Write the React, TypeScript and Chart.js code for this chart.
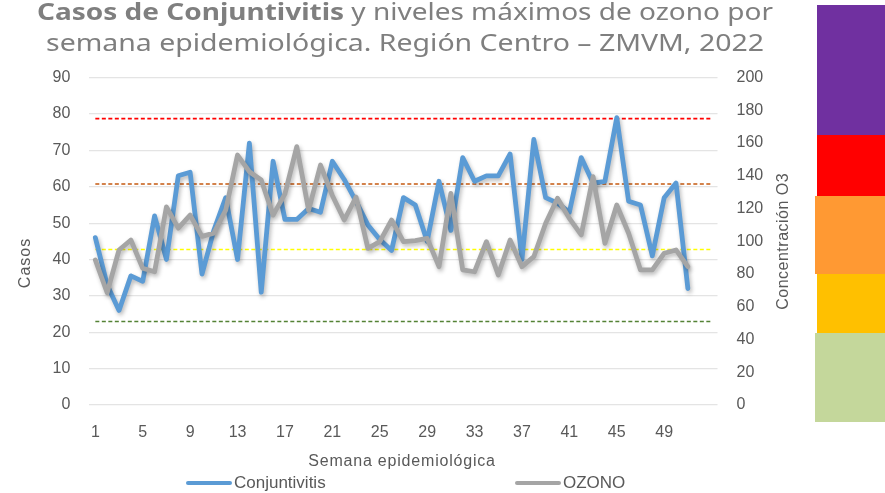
import React, { useEffect, useRef } from 'react';
import { Chart, registerables } from 'chart.js';

Chart.register(...registerables);

const weeks = ['1','2','3','4','5','6','7','8','9','10','11','12','13','14','15','16','17','18','19','20','21','22','23','24','25','26','27','28','29','30','31','32','33','34','35','36','37','38','39','40','41','42','43','44','45','46','47','48','49','50','51','52','53'];

const conjuntivitis = [46, 33, 26, 35.5, 34, 52, 40, 63, 64, 36, 48, 57, 40, 72, 31, 67, 51, 51, 54, 53, 67, 62, 56, 49.5, 45.5, 42.5, 57, 55, 45, 61.5, 48, 68, 61.5, 63, 63, 69, 40, 73, 57, 55.5, 53, 68, 61, 61.5, 79, 56, 55, 41, 57, 61, 32];

const ozono = [88.6, 68.6, 94.7, 100.8, 83.5, 81.4, 121, 108, 116, 103, 105, 119, 152.7, 142.5, 137.4, 116, 129, 157.8, 119, 146.6, 128, 113, 127, 95.7, 99.8, 113, 99.8, 100.4, 101.8, 84.5, 129.3, 82.5, 81.4, 99.8, 79.4, 100.8, 84.5, 90.6, 111, 126.3, 114, 103.9, 139.5, 98.8, 122.2, 104.9, 82.5, 82.5, 92.7, 94.7, 84.5];

const thresholdValues = [51, 95, 135, 175];
const thresholdColors = ['#548235', '#FFFF00', '#C55A11', '#FF0000'];

const titleBold = 'Casos de Conjuntivitis';
const titleRest = ' y niveles máximos de ozono por';
const titleLine2 = 'semana epidemiológica. Región Centro – ZMVM, 2022';
const xTitle = 'Semana epidemiológica';
const yTitle = 'Casos';
const y2Title = 'Concentración O3';
const seriesNames = ['Conjuntivitis', 'OZONO'];
const seriesColors = ['#5B9BD5', '#A5A5A5'];

const TEXT = '#595959';
const FONT = '"Liberation Sans", Arial, sans-serif';

const shadowPlugin = {
  id: 'lineShadow',
  beforeDatasetDraw(chart: any, args: any) {
    const ctx = chart.ctx;
    ctx.save();
    if (args.index < 2) {
      ctx.shadowColor = 'rgba(0,0,0,0.28)';
      ctx.shadowBlur = 4;
      ctx.shadowOffsetX = 1.5;
      ctx.shadowOffsetY = 2.5;
    }
  },
  afterDatasetDraw(chart: any) {
    chart.ctx.restore();
  },
};

const decorPlugin = {
  id: 'decor',
  afterDraw(chart: any) {
    const ctx = chart.ctx as CanvasRenderingContext2D;
    const area = chart.chartArea;
    ctx.save();
    // Title
    const titleFamily = '"Noto Sans", "Open Sans", sans-serif';
    const fs = 23;
    ctx.fillStyle = '#7F7F7F';
    ctx.textBaseline = 'alphabetic';
    ctx.textAlign = 'left';
    ctx.font = `bold ${fs}px ${titleFamily}`;
    const wb = ctx.measureText(titleBold).width;
    ctx.font = `${fs}px ${titleFamily}`;
    const wr = ctx.measureText(titleRest).width;
    const w2 = ctx.measureText(titleLine2).width;
    const cx = 405;
    const t1 = 736, t2 = 718;
    let sx = t1 / (wb + wr);
    ctx.save();
    ctx.translate(cx - t1 / 2, 20);
    ctx.scale(sx, 1);
    ctx.font = `bold ${fs}px ${titleFamily}`;
    ctx.fillText(titleBold, 0, 0);
    ctx.font = `${fs}px ${titleFamily}`;
    ctx.fillText(titleRest, wb, 0);
    ctx.restore();
    sx = t2 / w2;
    ctx.save();
    ctx.translate(cx - t2 / 2, 51);
    ctx.scale(sx, 1);
    ctx.fillText(titleLine2, 0, 0);
    ctx.restore();

    // axis titles
    ctx.fillStyle = TEXT;
    ctx.font = `16px ${FONT}`;
    ctx.textAlign = 'center';
    ctx.textBaseline = 'middle';
    ctx.save();
    ctx.translate(26, 263);
    ctx.rotate(-Math.PI / 2);
    (ctx as any).letterSpacing = '1px';
    ctx.fillText(yTitle, 0, 0);
    ctx.restore();
    ctx.save();
    ctx.translate(784, (area.top + area.bottom) / 2);
    ctx.rotate(-Math.PI / 2);
    (ctx as any).letterSpacing = '0.5px';
    ctx.fillText(y2Title, 0, 0);
    ctx.restore();
    ctx.save();
    (ctx as any).letterSpacing = '0.8px';
    ctx.fillText(xTitle, 402, 462);
    ctx.restore();

    // legend
    const legendX = [186, 515];
    ctx.lineWidth = 4;
    ctx.lineCap = 'round';
    ctx.textAlign = 'left';
    ctx.font = `17px ${FONT}`;
    for (let i = 0; i < seriesNames.length; i++) {
      ctx.strokeStyle = seriesColors[i];
      ctx.beginPath();
      ctx.moveTo(legendX[i] + 2, 483);
      ctx.lineTo(legendX[i] + 44, 483);
      ctx.stroke();
      ctx.fillStyle = TEXT;
      ctx.fillText(seriesNames[i], legendX[i] + 48, 483);
    }
    ctx.restore();
  },
};

export default function App() {
  const ref = useRef<HTMLCanvasElement>(null);
  useEffect(() => {
    if (!ref.current) return;
    const thresholdSets = thresholdValues.map((t, i) => ({
      label: 'umbral ' + t,
      data: [
        { x: weeks[0], y: t },
        { x: weeks[weeks.length - 1], y: t },
      ],
      yAxisID: 'y2',
      borderColor: thresholdColors[i],
      borderWidth: 1.7,
      borderDash: [4, 2.5],
      pointRadius: 0,
      fill: false,
      order: 5,
    }));
    const chart = new Chart(ref.current, {
      type: 'line',
      data: {
        labels: weeks,
        datasets: [
          {
            label: seriesNames[0],
            data: conjuntivitis,
            yAxisID: 'y',
            borderColor: seriesColors[0],
            borderWidth: 4.8,
            pointRadius: 0,
            tension: 0,
            borderJoinStyle: 'round',
            borderCapStyle: 'round',
            order: 2,
          },
          {
            label: seriesNames[1],
            data: ozono,
            yAxisID: 'y2',
            borderColor: seriesColors[1],
            borderWidth: 4.8,
            pointRadius: 0,
            tension: 0,
            borderJoinStyle: 'round',
            borderCapStyle: 'round',
            order: 1,
          },
          ...thresholdSets,
        ] as any,
      },
      options: {
        responsive: false,
        animation: false,
        devicePixelRatio: 1,
        layout: { padding: { top: 77.6, left: 0, right: 0, bottom: 0 } },
        plugins: {
          legend: { display: false },
          tooltip: { enabled: false },
          title: { display: false },
        },
        scales: {
          x: {
            type: 'category',
            offset: true,
            grid: { display: false, drawTicks: false },
            border: { display: false },
            ticks: {
              autoSkip: false,
              maxRotation: 0,
              padding: 18,
              color: TEXT,
              font: { size: 16, family: FONT },
              callback: (_v: any, i: number) => (i % 4 === 0 && i < 52 ? weeks[i] : ''),
            },
            afterFit: (s: any) => {
              s.height = 88;
            },
          },
          y: {
            position: 'left',
            min: 0,
            max: 90,
            ticks: { stepSize: 10, padding: 19, color: TEXT, font: { size: 16, family: FONT } },
            grid: { color: '#E4E4E4', lineWidth: 1.2, drawTicks: false },
            border: { display: false },
            afterFit: (s: any) => {
              s.width = 89.4;
            },
          },
          y2: {
            position: 'right',
            min: 0,
            max: 200,
            ticks: { stepSize: 20, padding: 19, color: TEXT, font: { size: 16, family: FONT } },
            grid: { display: false, drawTicks: false },
            border: { display: false },
            afterFit: (s: any) => {
              s.width = 885 - 717.5;
            },
          },
        },
      } as any,
      plugins: [shadowPlugin, decorPlugin],
    });
    return () => chart.destroy();
  }, []);

  const block = (left: number, top: number, w: number, h: number, bg: string) => (
    <div style={{ position: 'absolute', left, top, width: w, height: h, background: bg }} />
  );

  return (
    <div style={{ position: 'absolute', left: 0, top: 0, width: 885, height: 493, background: '#fff' }}>
      <canvas ref={ref} width={885} height={493} style={{ position: 'absolute', left: 0, top: 0 }} />
      {block(817, 5, 68, 130, '#7030A0')}
      {block(817, 135, 68, 64, '#FF0000')}
      {block(817, 268, 68, 75, '#FFC000')}
      {block(815, 196, 70, 78, '#FF9933')}
      {block(815, 333, 70, 89, '#C4D79B')}
    </div>
  );
}
